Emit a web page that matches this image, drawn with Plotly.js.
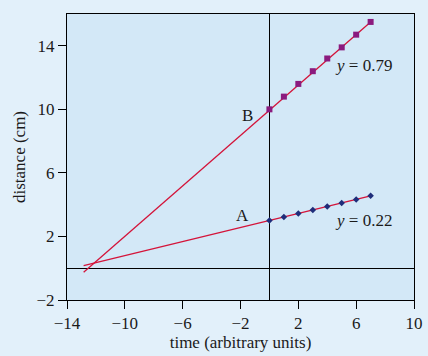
<!DOCTYPE html>
<html>
<head>
<meta charset="utf-8">
<script src="https://cdn.plot.ly/plotly-3.0.1.min.js"></script>
<style>html,body{margin:0;padding:0;background:#E2F0FA;}</style>
</head>
<body>
<div id="chart" style="width:428px;height:356px;"></div>
<script>
// Measured points
const timePts = [0, 1, 2, 3, 4, 5, 6, 7];
const distA = [3.0, 3.22, 3.44, 3.66, 3.88, 4.1, 4.32, 4.56];
const distB = [10.0, 10.8, 11.6, 12.4, 13.2, 13.9, 14.7, 15.5];
// Fitted lines (end points)
const fitX = [-12.85, 7];
const fitA = [0.17, 4.56];
const fitB = [-0.25, 15.5];
// Labels
const labelA = "A";
const labelB = "B";
const slopeA = "<i>y</i> = 0.22";
const slopeB = "<i>y</i> = 0.79";
const xTicks = [-14, -10, -6, -2, 2, 6, 10];
const yTicks = [-2, 2, 6, 10, 14];

const font = {family: "Liberation Serif, Times New Roman, serif", size: 17, color: "#1a1a1a"};
const lineColor = "#D4143A";

const traces = [
  {x: fitX, y: fitA, mode: "lines", line: {color: lineColor, width: 1.3}, hoverinfo: "skip"},
  {x: fitX, y: fitB, mode: "lines", line: {color: lineColor, width: 1.3}, hoverinfo: "skip"},
  {x: timePts, y: distA, mode: "markers", marker: {symbol: "diamond", size: 5, color: "#1F2D7A"}},
  {x: timePts, y: distB, mode: "markers", marker: {symbol: "square", size: 6, color: "#8B1A7E"}}
];

const layout = {
  width: 428, height: 356,
  margin: {l: 67, r: 14, t: 14, b: 56},
  paper_bgcolor: "#E2F0FA",
  plot_bgcolor: "#D3E8F7",
  showlegend: false,
  font: font,
  xaxis: {
    range: [-14, 10], tickvals: xTicks, ticks: "outside", ticklen: 8, tickcolor: "#000",
    showline: true, linecolor: "#000", linewidth: 1, mirror: true,
    showgrid: false, zeroline: true, zerolinecolor: "#000", zerolinewidth: 1,
    tickfont: font,
    title: {text: "time (arbitrary units)", font: font, standoff: 0}
  },
  yaxis: {
    range: [-2, 16], tickvals: yTicks, ticks: "outside", ticklen: 8, tickcolor: "#000",
    showline: true, linecolor: "#000", linewidth: 1, mirror: true,
    showgrid: false, zeroline: true, zerolinecolor: "#000", zerolinewidth: 1,
    tickfont: font,
    title: {text: "distance (cm)", font: font, standoff: 6}
  },
  annotations: [
    {x: -1.55, y: 9.64, text: labelB, showarrow: false, font: font},
    {x: -1.83, y: 3.33, text: labelA, showarrow: false, font: font},
    {x: 4.4, y: 12.77, text: slopeB, showarrow: false, xanchor: "left", font: font},
    {x: 4.4, y: 3.02, text: slopeA, showarrow: false, xanchor: "left", font: font}
  ]
};

Plotly.newPlot("chart", traces, layout, {displayModeBar: false, staticPlot: true});
</script>
</body>
</html>
